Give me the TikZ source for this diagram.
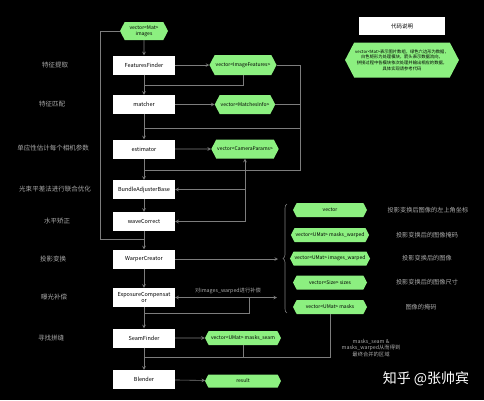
\documentclass[tikz,border=0pt]{standalone}
\usepackage{fontspec}
\newfontfamily\cjk{Noto Sans CJK SC}
\usepackage{tikz}
\usetikzlibrary{shapes.symbols}
\usetikzlibrary{decorations.pathreplacing}
\definecolor{datagreen}{RGB}{140,240,128}
\definecolor{wiregray}{RGB}{125,125,125}
\definecolor{lblgray}{RGB}{170,170,170}

\begin{document}
\begin{tikzpicture}
    [x=1pt, y=-1pt, >=stealth,
     proc/.style={fill=white, minimum width=62pt, minimum height=19pt, inner sep=1pt, align=center, font=\cjk\fontsize{5.5}{6}\selectfont},
     data/.style={signal, signal to=west and east, signal pointer angle=125, fill=datagreen, minimum height=18pt, inner sep=1pt, align=center, font=\cjk\fontsize{5}{6}\selectfont},
     lbl/.style={text=lblgray, font=\cjk\fontsize{6.5}{7}\selectfont},
     note/.style={text=lblgray, align=center, font=\cjk\fontsize{6.2}{7}\selectfont},
     wire/.style={draw=wiregray, line width=0.6pt}]
    \fill[black] (0,0) rectangle (484,400);

    % processing chain
    \node[data, minimum width=48pt] (imgs) at (144,31) {vector<Mat>\\images};
    \node[proc] (ff) at (144,65) {FeaturesFinder};
    \node[proc] (mt) at (144,104.5) {matcher};
    \node[proc] (es) at (144,149) {estimator};
    \node[proc] (ba) at (144,189.5) {BundleAdjusterBase};
    \node[proc] (wc) at (144,221.5) {waveCorrect};
    \node[proc] (wp) at (144,259) {WarperCreator};
    \node[proc] (ec) at (144,297.5) {ExposureCompensat\\or};
    \node[proc] (sf) at (144,338) {SeamFinder};
    \node[proc] (bl) at (144,379.5) {Blender};

    % step names
    \node[lbl] (tff) at (55,65) {特征提取};
    \node[lbl] (tmt) at (52,104.5) {特征匹配};
    \node[lbl] (tes) at (53,148) {单应性估计每个相机参数};
    \node[lbl] (tba) at (55,189.5) {光束平差法进行联合优化};
    \node[lbl] (twc) at (57,221) {水平矫正};
    \node[lbl] (twp) at (53,259) {投影变换};
    \node[lbl] (tec) at (54,297.5) {曝光补偿};
    \node[lbl] (tsf) at (51,338.5) {寻找拼缝};

    % data
    \node[data, minimum width=60pt, minimum height=20pt] (feat) at (243,65) {vector<ImageFeatures>};
    \node[data, minimum width=56pt, minimum height=19pt] (mtc) at (245,104.5) {vector<MatchesInfo>};
    \node[data, minimum width=60pt, minimum height=19pt] (cam) at (245,149) {vector<CameraParams>};
    \node[data, minimum width=74pt, minimum height=14pt] (crn) at (330,210) {vector};
    \node[data, minimum width=74pt, minimum height=14pt] (mw) at (330,235) {vector<UMat> masks\_warped};
    \node[data, minimum width=74pt, minimum height=14pt] (iw) at (330,258.5) {vector<UMat> images\_warped};
    \node[data, minimum width=74pt, minimum height=14pt] (sz) at (330,282.5) {vector<Size> sizes};
    \node[data, minimum width=74pt, minimum height=14pt] (msk) at (330,307) {vector<UMat> masks};
    \node[data, minimum width=76pt, minimum height=14pt] (mseam) at (243,338) {vector<UMat> masks\_seam};
    \node[data, minimum width=76pt, minimum height=13pt] (res) at (243,381) {result};

    % what the warped data are
    \node[note] (dcrn) at (428,210) {投影变换后图像的左上角坐标};
    \node[note] (dmw) at (427,235) {投影变换后的图像掩码};
    \node[note] (diw) at (427,258.5) {投影变换后的图像};
    \node[note] (dsz) at (427,282.5) {投影变换后的图像尺寸};
    \node[note] (dmsk) at (421,307) {图像的掩码};

    % legend
    \node[fill=white, minimum width=86pt, minimum height=18pt, font=\cjk\fontsize{5.5}{6}\selectfont] (ttl) at (402,26) {代码说明};
    \node[data, minimum width=99pt, minimum height=35pt, font=\cjk\fontsize{4.3}{5.6}\selectfont] (leg) at (402,60)
      {vector<Mat>表示图片数组，绿色六边形为数据，\\白色矩形为处理模块，箭头表示数据流向，\\拼接过程中各模块依次处理并输出相应的数据，\\具体实现请参考代码};

    % main line
    \draw[wire,->] (imgs) -- (ff);
    \draw[wire,->] (ff) -- (mt);
    \draw[wire,->] (mt) -- (es);
    \draw[wire,->] (es) -- (ba);
    \draw[wire,->] (ba) -- (wc);
    \draw[wire,->] (wc) -- (wp);
    \draw[wire,->] (wp) -- (ec);
    \draw[wire,->] (ec) -- (sf);
    \draw[wire,->] (sf) -- (bl);

    % images go round to the warper
    \coordinate (lp) at (100,239);
    \coordinate (jw) at (144,239);
    \draw[wire] (imgs.west) -| (lp) -- (jw);

    % features and matches
    \coordinate (j1) at (144,85);
    \coordinate (bt) at (300,65);
    \coordinate (bb) at (300,170);
    \coordinate (j2) at (144,128);
    \coordinate (j3) at (144,170);
    \draw[wire,->] (ff) -- (feat);
    \draw[wire] (feat.south) |- (j1);
    \draw[wire,->] (mt) -- (mtc);
    \draw[wire] (feat.east) -- (bt) -- (bb) -- (j3);
    \draw[wire] (mtc.east) -- (mtc.east -| bt);
    \draw[wire] (j2) -- (j2 -| bt);

    % camera parameters
    \coordinate (cb) at (245,221.5);
    \draw[wire,->] (es) -- (cam);
    \draw[wire,->] (cb) -- (cam.south);
    \draw[wire,->] (cam.south |- ba.east) -- (ba.east);
    \draw[wire,->] (cb) -- (wc.east);

    % warping
    \coordinate (brt) at (278,259);
    \draw[wire,->] (wp) -- (brt);
    \draw[wire, decorate, decoration={brace, amplitude=4pt}] (287,313) -- (287,204);

    % exposure
    \coordinate (ecr) at (277,297.5);
    \coordinate (ej) at (249,297.5);
    \coordinate (j4) at (144,313);
    \draw[wire,<->] (ec) -- (ecr);
    \draw[wire] (ej) |- (j4);
    \node[note, font=\cjk\fontsize{5.3}{6}\selectfont] (ecn) at (228,291) {对images\_warped进行补偿};

    % seams and blending
    \coordinate (j5) at (144,357);
    \draw[wire,->] (sf) -- (mseam);
    \draw[wire] (mseam.south) |- (j5);
    \draw[wire] (msk.south) |- (j5);
    \node[note, font=\cjk\fontsize{5.3}{6.6}\selectfont] (sn) at (371,348) {masks\_seam \&\\masks\_warped从而得到\\最终合并的区域};
    \draw[wire,->] (bl) -- (res);

    \node[text=white, font=\cjk\fontsize{14}{15}\selectfont] (wm) at (426,379) {知乎 @张帅宾};
\end{tikzpicture}
\end{document}
